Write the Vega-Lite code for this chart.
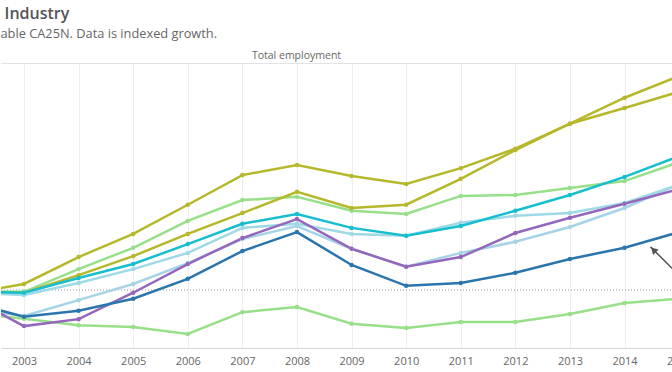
{
  "$schema": "https://vega.github.io/schema/vega-lite/v6.json",
  "width": 700,
  "height": 285,
  "padding": {"left": 0, "top": 6, "right": 0, "bottom": 0},
  "autosize": {"type": "pad"},
  "background": "white",
  "title": {
    "text": "\u200b\u2005Industry",
    "subtitle": "able CA25N. Data is indexed growth.",
    "anchor": "start",
    "font": "Open Sans",
    "fontSize": 16,
    "fontWeight": 600,
    "color": "#555555",
    "subtitleFont": "Open Sans",
    "subtitleFontSize": 12.8,
    "subtitleColor": "#666666",
    "subtitlePadding": 6,
    "offset": 9
  },
  "config": {"view": {"stroke": null}, "font": "Open Sans"},
  "datasets": {
    "series": [
      {"s": "D", "t": 2002, "v": 95.0}, {"s": "D", "t": 2003, "v": 93.8}, {"s": "D", "t": 2004, "v": 92.4}, {"s": "D", "t": 2005, "v": 92.0}, {"s": "D", "t": 2006, "v": 90.5}, {"s": "D", "t": 2007, "v": 95.2}, {"s": "D", "t": 2008, "v": 96.3}, {"s": "D", "t": 2009, "v": 92.7}, {"s": "D", "t": 2010, "v": 91.8}, {"s": "D", "t": 2011, "v": 93.1}, {"s": "D", "t": 2012, "v": 93.1}, {"s": "D", "t": 2013, "v": 94.8}, {"s": "D", "t": 2014, "v": 97.2}, {"s": "D", "t": 2015, "v": 98.1},
      {"s": "C", "t": 2002, "v": 99.6}, {"s": "C", "t": 2003, "v": 99.6}, {"s": "C", "t": 2004, "v": 104.5}, {"s": "C", "t": 2005, "v": 109.1}, {"s": "C", "t": 2006, "v": 114.9}, {"s": "C", "t": 2007, "v": 119.4}, {"s": "C", "t": 2008, "v": 120.1}, {"s": "C", "t": 2009, "v": 117.1}, {"s": "C", "t": 2010, "v": 116.4}, {"s": "C", "t": 2011, "v": 120.3}, {"s": "C", "t": 2012, "v": 120.5}, {"s": "C", "t": 2013, "v": 122.0}, {"s": "C", "t": 2014, "v": 123.5}, {"s": "C", "t": 2015, "v": 127.6},
      {"s": "A", "t": 2002, "v": 99.2}, {"s": "A", "t": 2003, "v": 101.3}, {"s": "A", "t": 2004, "v": 107.1}, {"s": "A", "t": 2005, "v": 112.1}, {"s": "A", "t": 2006, "v": 118.4}, {"s": "A", "t": 2007, "v": 124.8}, {"s": "A", "t": 2008, "v": 127.0}, {"s": "A", "t": 2009, "v": 124.6}, {"s": "A", "t": 2010, "v": 122.9}, {"s": "A", "t": 2011, "v": 126.3}, {"s": "A", "t": 2012, "v": 130.5}, {"s": "A", "t": 2013, "v": 135.9}, {"s": "A", "t": 2014, "v": 141.5}, {"s": "A", "t": 2015, "v": 146.2},
      {"s": "B", "t": 2002, "v": 99.8}, {"s": "B", "t": 2003, "v": 99.4}, {"s": "B", "t": 2004, "v": 103.2}, {"s": "B", "t": 2005, "v": 107.3}, {"s": "B", "t": 2006, "v": 112.1}, {"s": "B", "t": 2007, "v": 116.6}, {"s": "B", "t": 2008, "v": 121.2}, {"s": "B", "t": 2009, "v": 117.7}, {"s": "B", "t": 2010, "v": 118.4}, {"s": "B", "t": 2011, "v": 124.0}, {"s": "B", "t": 2012, "v": 130.2}, {"s": "B", "t": 2013, "v": 135.9}, {"s": "B", "t": 2014, "v": 139.3}, {"s": "B", "t": 2015, "v": 142.8},
      {"s": "G", "t": 2002, "v": 95.9}, {"s": "G", "t": 2003, "v": 94.4}, {"s": "G", "t": 2004, "v": 97.8}, {"s": "G", "t": 2005, "v": 101.3}, {"s": "G", "t": 2006, "v": 105.8}, {"s": "G", "t": 2007, "v": 111.0}, {"s": "G", "t": 2008, "v": 113.8}, {"s": "G", "t": 2009, "v": 108.9}, {"s": "G", "t": 2010, "v": 105.0}, {"s": "G", "t": 2011, "v": 108.0}, {"s": "G", "t": 2012, "v": 110.4}, {"s": "G", "t": 2013, "v": 113.6}, {"s": "G", "t": 2014, "v": 117.7}, {"s": "G", "t": 2015, "v": 122.9},
      {"s": "F", "t": 2002, "v": 99.4}, {"s": "F", "t": 2003, "v": 98.9}, {"s": "F", "t": 2004, "v": 101.5}, {"s": "F", "t": 2005, "v": 104.5}, {"s": "F", "t": 2006, "v": 108.0}, {"s": "F", "t": 2007, "v": 113.4}, {"s": "F", "t": 2008, "v": 114.3}, {"s": "F", "t": 2009, "v": 112.1}, {"s": "F", "t": 2010, "v": 111.7}, {"s": "F", "t": 2011, "v": 114.5}, {"s": "F", "t": 2012, "v": 116.0}, {"s": "F", "t": 2013, "v": 116.6}, {"s": "F", "t": 2014, "v": 118.8}, {"s": "F", "t": 2015, "v": 122.7},
      {"s": "H", "t": 2002, "v": 98.5}, {"s": "H", "t": 2003, "v": 92.2}, {"s": "H", "t": 2004, "v": 93.7}, {"s": "H", "t": 2005, "v": 99.4}, {"s": "H", "t": 2006, "v": 105.6}, {"s": "H", "t": 2007, "v": 111.2}, {"s": "H", "t": 2008, "v": 115.3}, {"s": "H", "t": 2009, "v": 108.9}, {"s": "H", "t": 2010, "v": 105.0}, {"s": "H", "t": 2011, "v": 107.1}, {"s": "H", "t": 2012, "v": 112.3}, {"s": "H", "t": 2013, "v": 115.6}, {"s": "H", "t": 2014, "v": 118.6}, {"s": "H", "t": 2015, "v": 121.8},
      {"s": "E", "t": 2002, "v": 99.6}, {"s": "E", "t": 2003, "v": 99.4}, {"s": "E", "t": 2004, "v": 102.6}, {"s": "E", "t": 2005, "v": 105.6}, {"s": "E", "t": 2006, "v": 109.9}, {"s": "E", "t": 2007, "v": 114.3}, {"s": "E", "t": 2008, "v": 116.4}, {"s": "E", "t": 2009, "v": 113.4}, {"s": "E", "t": 2010, "v": 111.7}, {"s": "E", "t": 2011, "v": 113.8}, {"s": "E", "t": 2012, "v": 117.1}, {"s": "E", "t": 2013, "v": 120.5}, {"s": "E", "t": 2014, "v": 124.4}, {"s": "E", "t": 2015, "v": 128.9},
      {"s": "I", "t": 2002, "v": 97.4}, {"s": "I", "t": 2003, "v": 94.2}, {"s": "I", "t": 2004, "v": 95.5}, {"s": "I", "t": 2005, "v": 98.1}, {"s": "I", "t": 2006, "v": 102.4}, {"s": "I", "t": 2007, "v": 108.4}, {"s": "I", "t": 2008, "v": 112.5}, {"s": "I", "t": 2009, "v": 105.4}, {"s": "I", "t": 2010, "v": 100.9}, {"s": "I", "t": 2011, "v": 101.5}, {"s": "I", "t": 2012, "v": 103.7}, {"s": "I", "t": 2013, "v": 106.7}, {"s": "I", "t": 2014, "v": 109.1}, {"s": "I", "t": 2015, "v": 112.5}
    ],
    "arrow": [{"x1": 2014.475, "y1": 109.3, "x2": 2015.4, "y2": 98.5}],
    "head": [{"x": 2014.53, "y": 108.64}],
    "ref": [{"ref": 100}]
  },
  "resolve": {"axis": {"x": "independent"}},
  "layer": [
    {
      "data": {"name": "ref"},
      "mark": {"type": "rule", "color": "#9a9a9a", "strokeWidth": 1, "strokeDash": [1, 2]},
      "encoding": {
        "y": {"field": "ref", "type": "quantitative", "axis": null}
      }
    },
    {
      "data": {"name": "series"},
      "mark": {"type": "line", "strokeWidth": 2.5, "clip": true},
      "encoding": {
        "x": {
          "field": "t", "type": "quantitative",
          "scale": {"domain": [2002.579, 2015.4], "nice": false, "zero": false},
          "axis": {
            "orient": "bottom", "values": [2003, 2004, 2005, 2006, 2007, 2008, 2009, 2010, 2011, 2012, 2013, 2014, 2015],
            "format": "d", "title": null, "ticks": false, "labelFont": "Open Sans", "labelFontSize": 11,
            "labelColor": "#666666", "labelPadding": 7, "domainColor": "#d6d6d6", "gridColor": "#eeeeee",
            "labelFlush": false, "labelOverlap": false
          }
        },
        "y": {
          "field": "v", "type": "quantitative",
          "scale": {"domain": [87.47, 149.0], "nice": false, "zero": false},
          "axis": {"values": [90, 110, 120, 130, 140], "labels": false, "ticks": false, "domain": false,
                   "gridColor": "#eeeeee", "title": null, "minExtent": 0, "maxExtent": 0}
        },
        "color": {
          "field": "s", "type": "nominal", "legend": null,
          "scale": {"domain": ["D", "C", "A", "B", "G", "F", "H", "E", "I"],
                    "range": ["#98df8a", "#98df8a", "#b5b82a", "#b5b82a", "#a6d3e6", "#9edae5", "#9467bd", "#17becf", "#2a75ad"]}
        }
      }
    },
    {
      "data": {"name": "series"},
      "mark": {"type": "point", "filled": true, "size": 20, "opacity": 1, "clip": true},
      "encoding": {
        "x": {"field": "t", "type": "quantitative", "axis": null},
        "y": {"field": "v", "type": "quantitative", "axis": null},
        "color": {"field": "s", "type": "nominal", "legend": null}
      }
    },
    {
      "data": {"name": "arrow"},
      "mark": {"type": "rule", "color": "#555555", "strokeWidth": 1.5, "clip": true},
      "encoding": {
        "x": {
          "field": "x1", "type": "quantitative",
          "axis": {"orient": "top", "labels": false, "ticks": false, "grid": false, "domain": true,
                   "domainColor": "#e3e3e3", "title": "Total employment", "titleFont": "Open Sans",
                   "titleFontSize": 10.5, "titleFontWeight": "normal", "titleColor": "#666666",
                   "titlePadding": 3, "titleX": 295, "minExtent": 0}
        },
        "x2": {"field": "x2"},
        "y": {"field": "y1", "type": "quantitative", "axis": null},
        "y2": {"field": "y2"}
      }
    },
    {
      "data": {"name": "head"},
      "mark": {"type": "point", "shape": "triangle-up", "angle": -45, "filled": true, "size": 60, "color": "#555555", "opacity": 1, "clip": true},
      "encoding": {
        "x": {"field": "x", "type": "quantitative", "axis": null},
        "y": {"field": "y", "type": "quantitative", "axis": null}
      }
    }
  ]
}
